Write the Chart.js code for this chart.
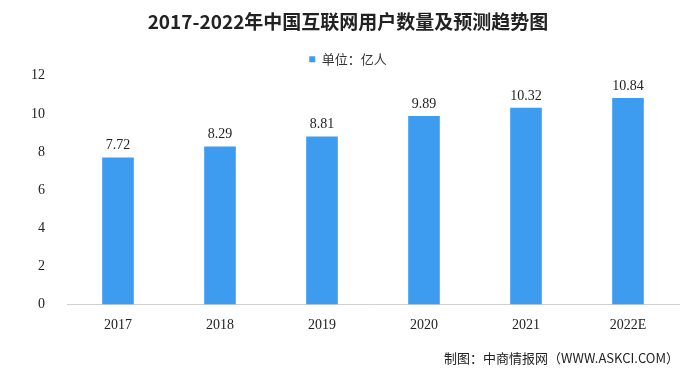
<!DOCTYPE html>
<html>
<head>
<meta charset="utf-8">
<script src="https://cdn.jsdelivr.net/npm/chart.js@4.4.1/dist/chart.umd.min.js"></script>
<style>
  html, body { margin: 0; padding: 0; background: #fff; }
  #wrap { width: 688px; height: 374px; }
</style>
</head>
<body>
<div id="wrap"><canvas id="barChart" width="688" height="374"></canvas></div>
<script>
// 数据
var years = ["2017", "2018", "2019", "2020", "2021", "2022E"];
var users = [7.72, 8.29, 8.81, 9.89, 10.32, 10.84];
var yTicks = [0, 2, 4, 6, 8, 10, 12];

var cjk = "'Noto Sans CJK SC', 'Noto Sans', sans-serif";
var num = "'Liberation Serif', 'DejaVu Serif', serif";

// 柱子上方数值
var valueLabels = {
  id: 'valueLabels',
  afterDatasetsDraw: function(chart) {
    var ctx = chart.ctx;
    var meta = chart.getDatasetMeta(0);
    ctx.save();
    ctx.font = "14px " + num;
    ctx.fillStyle = "#222";
    ctx.textAlign = "center";
    ctx.textBaseline = "bottom";
    meta.data.forEach(function(bar, i) {
      ctx.fillText(users[i].toFixed(2), bar.x, bar.y - 5);
    });
    ctx.restore();
  }
};

var ctx = document.getElementById("barChart").getContext('2d');
var myChart = new Chart(ctx, {
  type: 'bar',
  data: {
    labels: years,
    datasets: [{
      label: "单位：亿人",
      data: users,
      backgroundColor: "#3d9cf0",
      categoryPercentage: 1,
      barPercentage: 0.31
    }]
  },
  options: {
    responsive: false,
    animation: false,
    layout: { padding: { left: 17, right: 9, top: 0, bottom: 0 } },
    plugins: {
      title: {
        display: true,
        text: "2017-2022年中国互联网用户数量及预测趋势图",
        font: { family: cjk, size: 19, weight: 'bold' },
        color: "#222",
        padding: { top: 10, bottom: 8 }
      },
      legend: {
        display: true,
        labels: {
          usePointStyle: true,
          pointStyle: 'rect',
          boxWidth: 6,
          boxHeight: 6,
          font: { family: cjk, size: 13 },
          color: "#333",
          padding: 12
        }
      },
      subtitle: {
        display: true,
        position: 'bottom',
        align: 'end',
        text: "制图：中商情报网（WWW.ASKCI.COM）",
        font: { family: cjk, size: 13 },
        color: "#222",
        padding: { top: 13, bottom: 8 }
      },
      tooltip: { enabled: false }
    },
    scales: {
      y: {
        min: 0,
        max: 12,
        afterBuildTicks: function(axis) {
          axis.ticks = yTicks.map(function(v) { return { value: v }; });
        },
        grid: { display: false },
        border: { display: false },
        ticks: { font: { family: num, size: 14 }, color: "#222", padding: 14 }
      },
      x: {
        grid: { display: false },
        border: { display: true, color: "#d0d0d0", width: 1 },
        ticks: { font: { family: num, size: 14 }, color: "#222", padding: 4 }
      }
    }
  },
  plugins: [valueLabels]
});
</script>
</body>
</html>
